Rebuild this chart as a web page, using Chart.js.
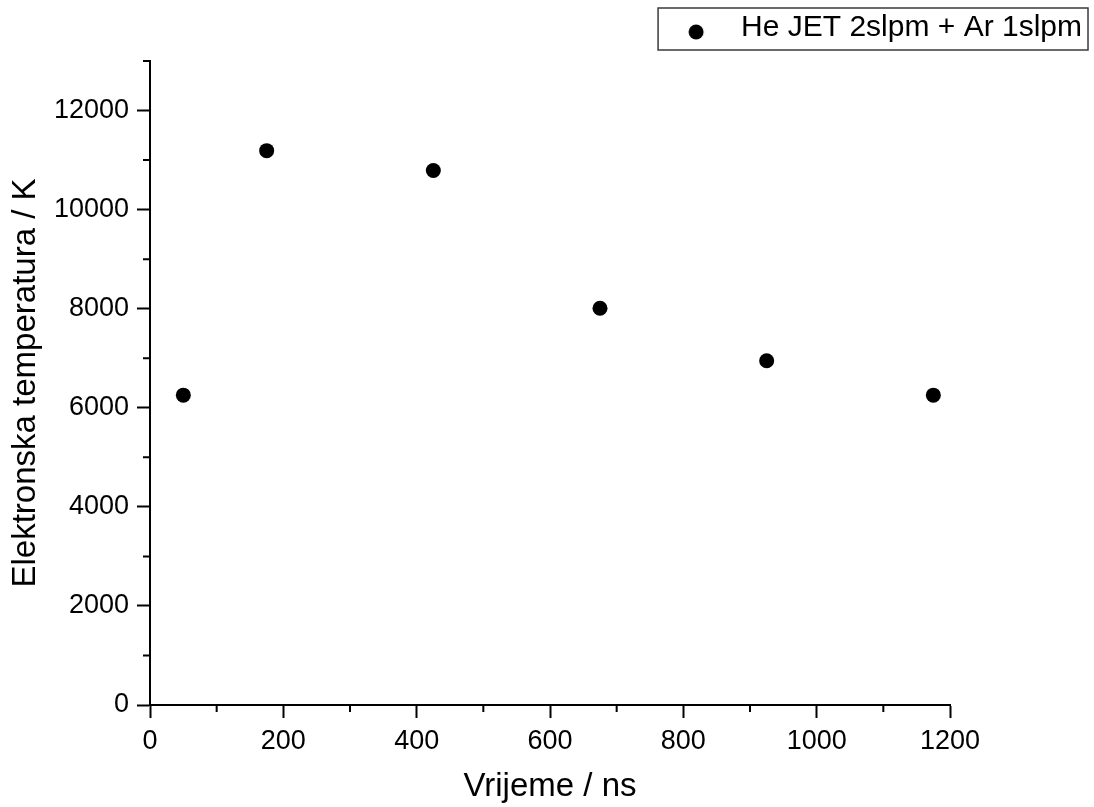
<!DOCTYPE html>
<html>
<head>
<meta charset="utf-8">
<title>Elektronska temperatura</title>
<script src="https://cdn.jsdelivr.net/npm/chart.js@4.4.1/dist/chart.umd.min.js"></script>
<style>
  html, body { margin: 0; padding: 0; background: #fff; }
  #wrap { width: 1094px; height: 807px; }
</style>
</head>
<body>
<div id="wrap"><canvas id="tempChart"></canvas></div>
<script>
// Podaci ocitani s grafa
const vrijeme = [50, 175, 425, 675, 925, 1175];
const temperatura = [6255, 11190, 10790, 8010, 6950, 6255];

// Oznake na osima
const xTickLabels = [0, 200, 400, 600, 800, 1000, 1200];
const yTickLabels = [0, 2000, 4000, 6000, 8000, 10000, 12000];
const xMinorTicks = [100, 300, 500, 700, 900, 1100];
const yMinorTicks = [1000, 3000, 5000, 7000, 9000, 11000, 13000];

const seriesLabel = 'He JET 2slpm + Ar 1slpm';
const FONT = "'Liberation Sans', Arial, sans-serif";

// tocka za legendu (pomaknuta lijevo kao u originalu)
const legendDot = document.createElement('canvas');
legendDot.width = 80;
legendDot.height = 24;
const dctx = legendDot.getContext('2d');
dctx.fillStyle = '#000';
dctx.beginPath();
dctx.arc(25, 16, 7.5, 0, Math.PI * 2);
dctx.fill();

// sporedne crtice, okvir legende, legenda uz gornji rub
const extras = {
    id: 'extras',
    afterLayout(chart) {
        const lg = chart.legend;
        if (lg) {
            lg.top = 1;
            lg.bottom = lg.top + lg.height;
        }
    },
    afterDraw(chart) {
        const { ctx, scales: { x, y } } = chart;
        ctx.save();
        ctx.strokeStyle = '#000';
        ctx.lineWidth = 2;
        ctx.beginPath();
        xMinorTicks.forEach(v => {
            const px = x.getPixelForValue(v);
            ctx.moveTo(px, x.top);
            ctx.lineTo(px, x.top + 7);
        });
        yMinorTicks.forEach(v => {
            const py = y.getPixelForValue(v);
            ctx.moveTo(y.right, py);
            ctx.lineTo(y.right - 7, py);
        });
        ctx.stroke();

        const hb = chart.legend.legendHitBoxes[0];
        if (hb) {
            ctx.strokeStyle = '#3a3a3a';
            ctx.lineWidth = 1.5;
            const x0 = hb.left - 38, y0 = hb.top - 5;
            const x1 = hb.left + hb.width + 6, y1 = hb.top + hb.height + 7;
            ctx.strokeRect(x0, y0, x1 - x0, y1 - y0);
        }
        ctx.restore();
    }
};

const tempChart = new Chart(document.getElementById('tempChart'), {
    type: 'scatter',
    data: {
        datasets: [{
            label: seriesLabel,
            data: vrijeme.map((t, i) => ({ x: t, y: temperatura[i] })),
            backgroundColor: '#000',
            borderColor: '#000',
            pointRadius: 7.5,
            pointHoverRadius: 7.5,
            pointBorderWidth: 0
        }]
    },
    options: {
        responsive: true,
        maintainAspectRatio: false,
        animation: false,
        layout: { padding: 0 },
        plugins: {
            tooltip: { enabled: false },
            legend: {
                position: 'top',
                align: 'end',
                labels: {
                    usePointStyle: true,
                    pointStyle: legendDot,
                    color: '#000',
                    padding: 12,
                    font: { family: FONT, size: 30 }
                }
            }
        },
        scales: {
            x: {
                type: 'linear',
                min: 0,
                max: 1200,
                afterBuildTicks: s => { s.ticks = xTickLabels.map(v => ({ value: v })); },
                afterFit: s => { s.height = 102; s.paddingRight = 144; },
                grid: { drawOnChartArea: false, tickLength: 13, tickWidth: 2, tickColor: '#000' },
                border: { color: '#000', width: 2 },
                ticks: {
                    color: '#000',
                    padding: 7,
                    maxRotation: 0,
                    font: { family: FONT, size: 27 },
                    callback: v => String(v)
                },
                title: {
                    display: true,
                    text: 'Vrijeme / ns',
                    color: '#000',
                    padding: { top: 3, bottom: 0 },
                    font: { family: FONT, size: 33 }
                }
            },
            y: {
                type: 'linear',
                min: 0,
                max: 13000,
                afterBuildTicks: s => { s.ticks = yTickLabels.map(v => ({ value: v })); },
                afterFit: s => { s.width = 150; s.paddingTop = 61; },
                grid: { drawOnChartArea: false, tickLength: 13, tickWidth: 2, tickColor: '#000' },
                border: { color: '#000', width: 2 },
                ticks: {
                    color: '#000',
                    padding: 8,
                    font: { family: FONT, size: 27 },
                    callback: v => String(v)
                },
                title: {
                    display: true,
                    text: 'Elektronska temperatura / K',
                    color: '#000',
                    padding: { top: 6, bottom: 0 },
                    font: { family: FONT, size: 33 }
                }
            }
        }
    },
    plugins: [extras]
});
</script>
</body>
</html>
